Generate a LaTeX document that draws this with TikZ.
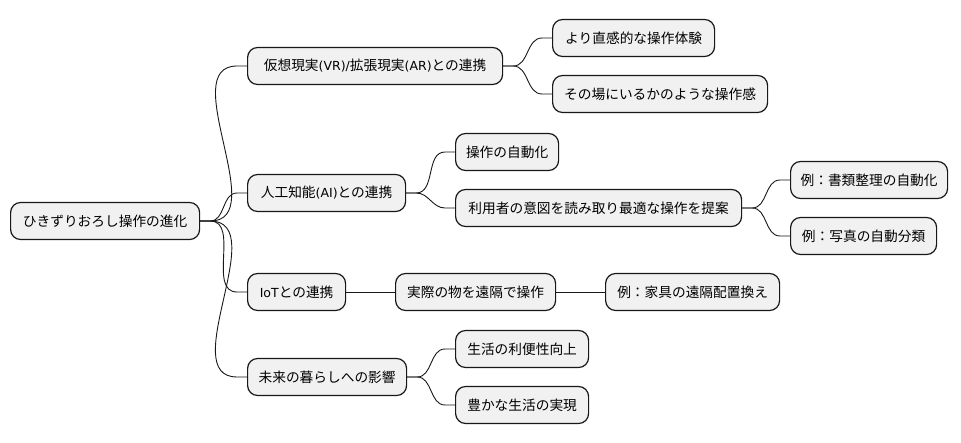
\documentclass[tikz,border=0pt]{standalone}
\usepackage{fontspec}
\setmainfont{Noto Sans CJK JP}
\newfontfamily\lat{DejaVu Sans}
\definecolor{nodefill}{HTML}{F1F1F1}
\definecolor{nodeline}{HTML}{181818}
\tikzset{
  mm/.style={draw=nodeline, fill=nodefill, line width=1.2pt, rounded corners=10pt,
    minimum height=37pt, inner xsep=8pt, inner ysep=0pt, anchor=west,
    font=\fontsize{13.7pt}{16pt}\selectfont, text=black},
  link/.style={draw=nodeline, line width=0.9pt}
}
\newcommand{\mmlink}[2]{\draw[link] (#1.east) -- ++(10pt,0) to[out=0,in=180] ([xshift=-10pt]#2.west) -- (#2.west);}
\newcommand{\la}[1]{{\lat\fontsize{12.5pt}{16pt}\selectfont #1}}
\begin{document}
\begin{tikzpicture}[x=1pt,y=1pt]
\useasboundingbox (0,0) rectangle (961,-443);
\node[mm, minimum width=189pt] (root) at (10,-221) {ひきずりおろし操作の進化};
\node[mm, minimum width=255pt] (vr) at (247,-66) {仮想現実\la{(VR)/}拡張現実\la{(AR)}との連携};
\node[mm, minimum width=162pt] (vr1) at (552,-38) {より直感的な操作体験};
\node[mm, minimum width=215pt] (vr2) at (552,-94) {その場にいるかのような操作感};
\node[mm, minimum width=158pt] (ai) at (247,-193) {人工知能\la{(AI)}との連携};
\node[mm, minimum width=103pt] (ai1) at (455,-152) {操作の自動化};
\node[mm, minimum width=286pt] (ai2) at (455,-208) {利用者の意図を読み取り最適な操作を提案};
\node[mm, minimum width=157pt] (ai21) at (790,-180) {例：書類整理の自動化};
\node[mm, minimum width=146pt] (ai22) at (790,-236) {例：写真の自動分類};
\node[mm, minimum width=98pt] (iot) at (247,-292) {\la{IoT}との連携};
\node[mm, minimum width=160pt] (iot1) at (395,-292) {実際の物を遠隔で操作};
\node[mm, minimum width=174pt] (iot11) at (605,-292) {例：家具の遠隔配置換え};
\node[mm, minimum width=159pt] (fut) at (247,-377) {未来の暮らしへの影響};
\node[mm, minimum width=133pt] (fut1) at (455,-349) {生活の利便性向上};
\node[mm, minimum width=133pt] (fut2) at (455,-405) {豊かな生活の実現};
\mmlink{root}{vr}
\mmlink{root}{ai}
\mmlink{root}{iot}
\mmlink{root}{fut}
\mmlink{vr}{vr1}
\mmlink{vr}{vr2}
\mmlink{ai}{ai1}
\mmlink{ai}{ai2}
\mmlink{ai2}{ai21}
\mmlink{ai2}{ai22}
\draw[link] (iot.east) -- (iot1.west);
\draw[link] (iot1.east) -- (iot11.west);
\mmlink{fut}{fut1}
\mmlink{fut}{fut2}
\end{tikzpicture}
\end{document}
